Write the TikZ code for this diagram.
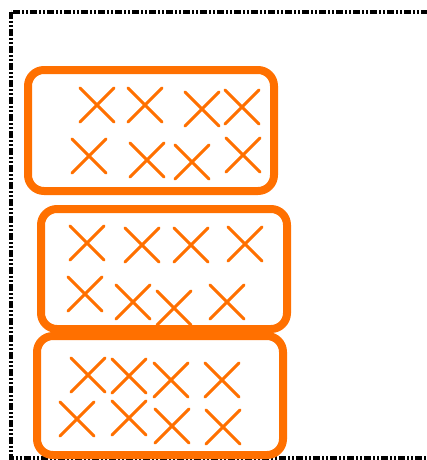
\documentclass[tikz,border=0pt]{standalone}
\usepackage{tikz}
\usetikzlibrary{shapes.misc}
\definecolor{MarkOrange}{RGB}{255, 112, 0}

\begin{document}
\begin{tikzpicture}[
    x=1pt, y=-1pt,
    frame/.style={draw=black, line width=3.5pt,
                  dash pattern=on 7pt off 2pt on 2pt off 2pt on 2pt off 2pt},
    group/.style={draw=MarkOrange, line width=8pt, rounded corners=16pt,
                  minimum width=246pt, inner sep=0pt},
    cross/.style={cross out, draw=MarkOrange, line width=3pt, line cap=round,
                  minimum size=34pt, inner sep=0pt, outer sep=0pt}
]
\clip (0,0) rectangle (427,460);
\draw[frame] (11,12) rectangle (445,458);

% three groups
\node[group, minimum height=121pt] (grpA) at (151,130.5) {};
\node[group, minimum height=120pt] (grpB) at (164,269) {};
\node[group, minimum height=119pt] (grpC) at (160,395.5) {};

% marks of the first group
\foreach \x/\y [count=\i] in {97/105, 145/105, 202/109, 242/107,
                              89/156, 147/160, 192/162, 243/155}
  \node[cross] (a\i) at (\x,\y) {};

% marks of the second group
\foreach \x/\y [count=\i] in {87/243, 142/245, 191/245, 245/244,
                              85/294, 133/302, 174/308, 227/302}
  \node[cross] (b\i) at (\x,\y) {};

% marks of the third group
\foreach \x/\y [count=\i] in {88/375, 129/376, 171/380, 222/380,
                              77/419, 129/418, 172/426, 223/427}
  \node[cross] (c\i) at (\x,\y) {};
\end{tikzpicture}
\end{document}
